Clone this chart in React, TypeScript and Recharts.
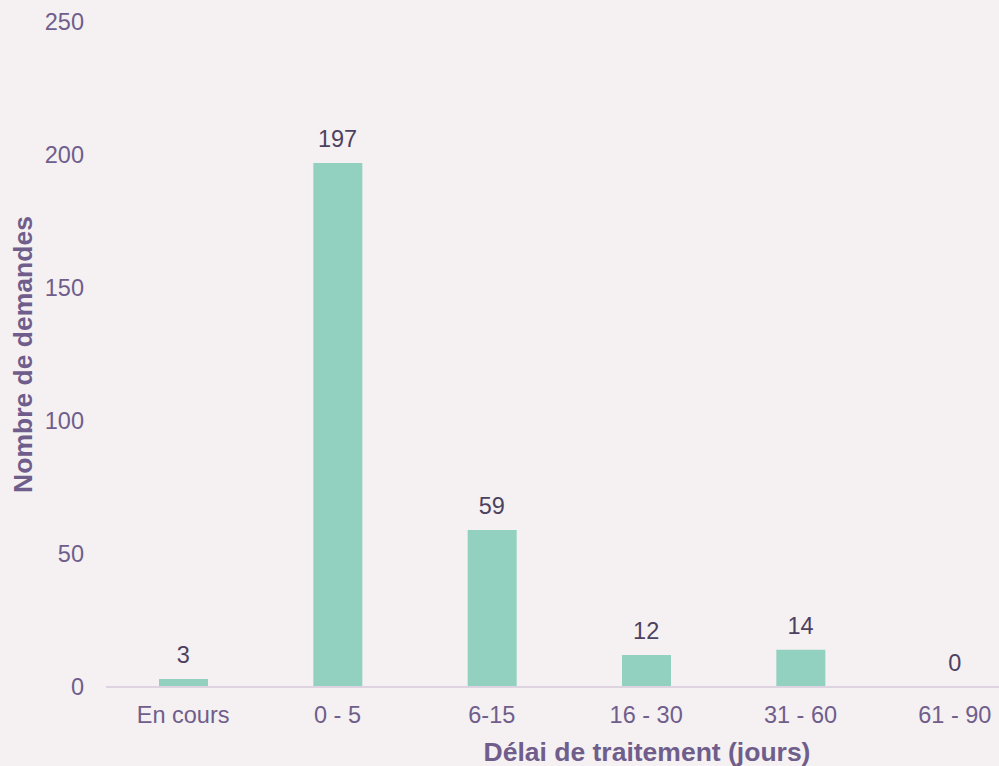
import React from 'react';
import { ComposedChart, Bar, Line, XAxis, YAxis, LabelList, Label } from 'recharts';

const CATEGORIES = ['En cours', '0 - 5', '6-15', '16 - 30', '31 - 60', '61 - 90'];
const DEMANDES = [3, 197, 59, 12, 14, 0];
const Y_TICKS = [0, 50, 100, 150, 200, 250];

const DATA = CATEGORIES.map((name, i) => ({ name, value: DEMANDES[i] }));

const FONT = '"Liberation Sans", Arial, sans-serif';
const TEXT_COLOR = '#6f5e8b';
const VALUE_COLOR = '#4d4160';

const YTitle = (props: any) => {
  const vb = props.viewBox || {};
  const cx = 23;
  const cy = vb.y + vb.height / 2;
  return (
    <text
      x={cx}
      y={cy}
      transform={`rotate(-90, ${cx}, ${cy})`}
      textAnchor="middle"
      dominantBaseline="central"
      fill={TEXT_COLOR}
      fontFamily={FONT}
      fontSize={26.5}
      fontWeight="bold"
    >
      Nombre de demandes
    </text>
  );
};

const XTitle = (props: any) => {
  const vb = props.viewBox || {};
  const cx = vb.x + vb.width / 2 + 78;
  return (
    <text
      x={cx}
      y={761}
      textAnchor="middle"
      fill={TEXT_COLOR}
      fontFamily={FONT}
      fontSize={26.5}
      fontWeight="bold"
    >
      Délai de traitement (jours)
    </text>
  );
};

const App: React.FC = () => {
  return (
    <div
      style={{
        position: 'absolute',
        left: 0,
        top: 0,
        width: 999,
        height: 766,
        overflow: 'hidden',
        background: '#f5f0f2',
      }}
    >
      <ComposedChart
        width={1040}
        height={766}
        data={DATA}
        margin={{ top: 22, right: 8, left: 0, bottom: 0 }}
      >
        <XAxis
          dataKey="name"
          height={79}
          tickLine={false}
          tickSize={0}
          tickMargin={19}
          axisLine={{ stroke: '#ddd3e1', strokeWidth: 2 }}
          tick={{ fill: TEXT_COLOR, fontSize: 23.5, fontFamily: FONT }}
          interval={0}
        >
          <Label content={<XTitle />} position="bottom" />
        </XAxis>
        <YAxis
          width={106}
          domain={[0, 250]}
          ticks={Y_TICKS}
          axisLine={false}
          tickLine={false}
          tickSize={0}
          tickMargin={22}
          tick={{ fill: TEXT_COLOR, fontSize: 23.5, fontFamily: FONT }}
        >
          <Label content={<YTitle />} position="insideLeft" />
        </YAxis>
        <Bar dataKey="value" fill="#92d1c0" barSize={49} isAnimationActive={false} />
        <Line
          dataKey="value"
          stroke="none"
          dot={false}
          activeDot={false}
          legendType="none"
          isAnimationActive={false}
        >
          <LabelList
            dataKey="value"
            position="top"
            offset={16}
            fill={VALUE_COLOR}
            fontSize={23.5}
            fontFamily={FONT}
          />
        </Line>
      </ComposedChart>
    </div>
  );
};

export default App;
